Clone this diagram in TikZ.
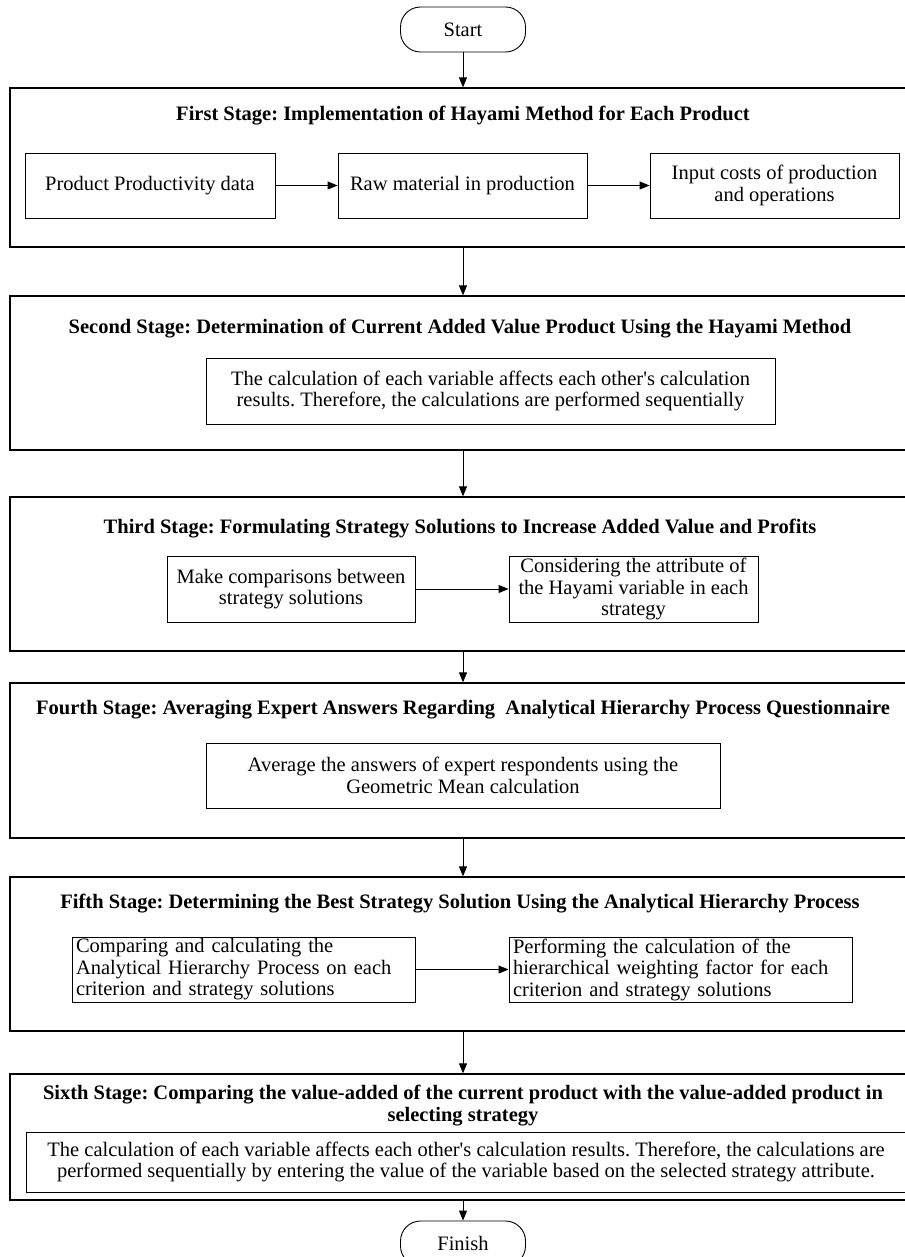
\documentclass[tikz,border=0pt]{standalone}
\usepackage{fontspec}
\setmainfont{Liberation Serif}
\usetikzlibrary{arrows.meta}

\begin{document}
\frenchspacing
\begin{tikzpicture}[x=1pt, y=-1pt,
	every node/.style={font=\fontsize{20.5}{21.5}\selectfont},
	term/.style={draw, line width=0.9pt, rounded corners=20pt, minimum width=125pt, minimum height=45pt},
	stage/.style={draw, line width=1.3pt, minimum width=896pt, inner sep=0pt},
	box/.style={draw, line width=0.9pt, align=center, inner sep=0pt},
	ttl/.style={font=\bfseries\fontsize{20.5}{22}\selectfont, align=center},
	arr/.style={-{Triangle[length=10pt,width=8pt]}, line width=0.9pt}]
	
	\useasboundingbox (0,0) rectangle (904,1257);
	
	% Terminals
	\node[term] (start) at (463,29.5) {Start};
	\node[term] (finish) at (463,1243.5) {Finish};
	
	% Stage frames
	\node[stage, minimum height=159pt] (s1) at (458,167.5) {};
	\node[stage, minimum height=154pt] (s2) at (458,373) {};
	\node[stage, minimum height=154pt] (s3) at (458,574) {};
	\node[stage, minimum height=155pt] (s4) at (458,760.5) {};
	\node[stage, minimum height=154pt] (s5) at (458,954) {};
	\node[stage, minimum height=126pt] (s6) at (458,1137) {};
	
	% Stage titles
	\node[ttl] (t1) at (463,116) {First Stage: Implementation of Hayami Method for Each Product};
	\node[ttl] (t2) at (460,329) {Second Stage: Determination of Current Added Value Product Using the Hayami Method};
	\node[ttl] (t3) at (460,529) {Third Stage: Formulating Strategy Solutions to Increase Added Value and Profits};
	\node[ttl] (t4) at (463,710) {Fourth Stage: Averaging Expert Answers Regarding~ Analytical Hierarchy Process Questionnaire};
	\node[ttl] (t5) at (460,904) {Fifth Stage: Determining the Best Strategy Solution Using the Analytical Hierarchy Process};
	\node[ttl] (t6) at (463,1106) {Sixth Stage: Comparing the value-added of the current product with the value-added product in\\selecting strategy};
	
	% First stage
	\node[box, minimum width=250pt, minimum height=65pt] (b1a) at (150,185.5) {Product Productivity data};
	\node[box, minimum width=249pt, minimum height=65pt] (b1b) at (462.5,185.5) {Raw material in production};
	\node[box, minimum width=249pt, minimum height=65pt] (b1c) at (774.5,185.5) {Input costs of production\\and operations};
	
	% Second stage
	\node[box, minimum width=569pt, minimum height=66pt] (b2) at (490.5,391) {The calculation of each variable affects each other\textquotesingle s calculation\\results. Therefore, the calculations are performed sequentially};
	
	% Third stage
	\node[box, minimum width=248pt, minimum height=66pt] (b3a) at (291,589) {Make comparisons between\\strategy solutions};
	\node[box, minimum width=249pt, minimum height=66pt] (b3b) at (633.5,589) {Considering the attribute of\\the Hayami variable in each\\strategy};
	
	% Fourth stage
	\node[box, minimum width=514pt, minimum height=65pt] (b4) at (463,775.5) {Average the answers of expert respondents using the\\Geometric Mean calculation};
	
	% Fifth stage
	\node[box, align=left, text width=335pt, inner xsep=4pt, minimum height=65pt] (b5a) at (243.5,969.5) {Comparing and calculating the\\Analytical Hierarchy Process on each\\criterion and strategy solutions};
	\node[box, align=left, text width=335pt, inner xsep=4pt, minimum height=65pt] (b5b) at (680.5,969.5) {Performing the calculation of the\\hierarchical weighting factor for each\\criterion and strategy solutions};
	
	% Sixth stage
	\node[box, minimum width=880pt, minimum height=60pt] (b6) at (466,1162) {The calculation of each variable affects each other\textquotesingle s calculation results. Therefore, the calculations are\\performed sequentially by entering the value of the variable based on the selected strategy attribute.};
	
	% Connectors inside stages
	\draw[arr] (b1a) -- (b1b);
	\draw[arr] (b1b) -- (b1c);
	\draw[arr] (b3a) -- (b3b);
	\draw[arr] (b5a) -- (b5b);
	
	% Main flow
	\foreach \a/\b in {start/s1, s1/s2, s2/s3, s3/s4, s4/s5, s5/s6, s6/finish} {
		\draw[arr] (\a.south -| start) -- (\b.north -| start);
	}
	
\end{tikzpicture}
\end{document}
